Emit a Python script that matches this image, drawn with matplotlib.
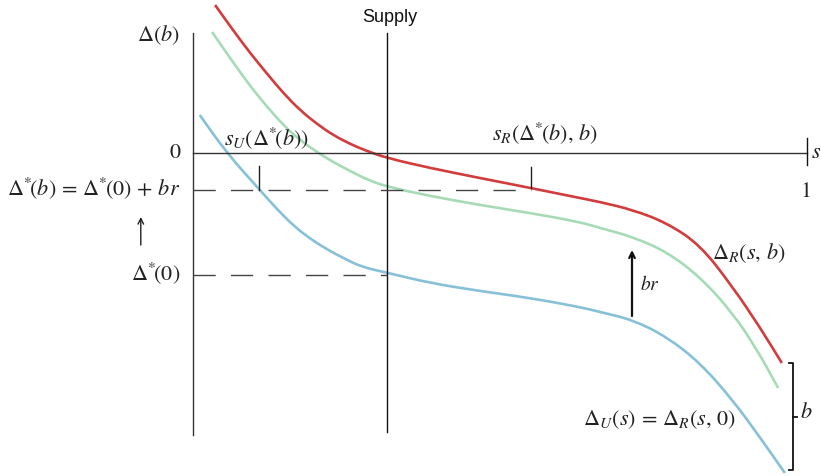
import numpy as np
import matplotlib
matplotlib.use("Agg")
import matplotlib.pyplot as plt
from matplotlib.path import Path
from matplotlib.patches import PathPatch

plt.rcParams['mathtext.fontset'] = 'stix'
plt.rcParams['font.family'] = ['STIXGeneral', 'DejaVu Serif']

# curves: share of supply s vs. margin Delta
s_red = [0.036, 0.065, 0.093, 0.121, 0.147, 0.174, 0.202, 0.228, 0.256, 0.283, 0.316, 0.386,
         0.467, 0.550, 0.630, 0.663, 0.717, 0.772, 0.826, 0.879, 0.923, 0.959]
d_red = [1.48, 1.23, 1.00, 0.79, 0.60, 0.43, 0.29, 0.18, 0.09, 0.02, -0.05, -0.15,
         -0.25, -0.35, -0.45, -0.49, -0.57, -0.70, -0.92, -1.34, -1.74, -2.10]

s_green = [0.031, 0.065, 0.093, 0.121, 0.147, 0.174, 0.202, 0.228, 0.256, 0.285, 0.318, 0.386,
           0.467, 0.549, 0.630, 0.663, 0.717, 0.772, 0.826, 0.879, 0.919, 0.953]
d_green = [1.21, 0.91, 0.67, 0.46, 0.28, 0.13, 0.01, -0.09, -0.18, -0.27, -0.34, -0.43,
           -0.52, -0.60, -0.69, -0.75, -0.84, -0.99, -1.24, -1.60, -1.97, -2.35]

s_blue = [0.011, 0.055, 0.106, 0.138, 0.166, 0.194, 0.220, 0.248, 0.275, 0.318, 0.386,
          0.467, 0.549, 0.630, 0.663, 0.717, 0.772, 0.826, 0.879, 0.923, 0.964]
d_blue = [0.38, 0.00, -0.35, -0.57, -0.74, -0.87, -0.97, -1.06, -1.14, -1.20, -1.30,
          -1.38, -1.45, -1.54, -1.59, -1.67, -1.84, -2.10, -2.47, -2.84, -3.20]

s_supply = 0.316
d_star_b = -0.37
d_star_0 = -1.22
s_u = 0.1075
s_r = 0.5505


def smooth_curve(ax, xs, ys, **kw):
    # quadratic B-spline through the read points, drawn as a path
    pts = np.column_stack([xs, ys])
    verts = [pts[0], (pts[0] + pts[1]) / 2]
    codes = [Path.MOVETO, Path.LINETO]
    for i in range(1, len(pts) - 1):
        verts += [pts[i], (pts[i] + pts[i + 1]) / 2]
        codes += [Path.CURVE3, Path.CURVE3]
    verts.append(pts[-1])
    codes.append(Path.LINETO)
    ax.add_patch(PathPatch(Path(verts, codes), fill=False, capstyle='butt', **kw))


fig = plt.figure(figsize=(8.21, 4.76), dpi=100)
ax = fig.add_axes([0, 0, 1, 1])
ax.set_xlim(-0.3143, 1.0228)
ax.set_ylim(-3.23, 1.53)
ax.axis('off')

axc = '#333333'
# axes and supply line
ax.plot([0, 0], [1.20, -2.82], color=axc, lw=1.0)
ax.plot([s_supply, s_supply], [1.20, -2.79], color='#111111', lw=1.0)
ax.plot([0, 1], [0, 0], color=axc, lw=1.0)
ax.plot([1, 1], [0.15, -0.12], color='#111111', lw=1.0)

# dashed guides
ax.plot([0, s_r], [d_star_b, d_star_b], color='#444444', lw=1.0, dashes=(16, 11))
ax.plot([0, s_supply], [d_star_0, d_star_0], color='#444444', lw=1.0, dashes=(16, 11))
ax.plot([s_u, s_u], [-0.13, d_star_b], color='#222222', lw=1.0)
ax.plot([s_r, s_r], [-0.14, -0.35], color='#222222', lw=1.0)

# curves
smooth_curve(ax, s_blue, d_blue, edgecolor='#86c1d8', lw=1.9)
smooth_curve(ax, s_green, d_green, edgecolor='#a6dbb6', lw=1.9)
smooth_curve(ax, s_red, d_red, edgecolor='#d23c3c', lw=1.9)

# arrows
ax.annotate('', xy=(-0.085, -0.64), xytext=(-0.085, -0.92),
            arrowprops=dict(arrowstyle='->', color='#222222', lw=1.0, shrinkA=0, shrinkB=0))
ax.annotate('', xy=(0.715, -0.97), xytext=(0.715, -1.63),
            arrowprops=dict(arrowstyle='->', color='#111111', lw=1.6, shrinkA=0, shrinkB=0))

# bracket b
ax.plot([0.971, 0.977, 0.977, 0.971], [-2.10, -2.10, -3.17, -3.17], color='#111111', lw=1.3)
ax.plot([0.977, 0.984], [-2.64, -2.64], color='#111111', lw=1.3)

fs = 16
tc = '#222222'
ax.text(-0.021, 1.18, r'$\Delta(b)$', ha='right', va='center', fontsize=fs, color=tc)
ax.text(-0.018, 0.0, r'$0$', ha='right', va='center', fontsize=fs, color=tc)
ax.text(-0.021, -0.35, r'$\Delta^{*}\!(b)\,=\,\Delta^{*}\!(0)\,+\,br$', ha='right', va='center', fontsize=fs, color=tc)
ax.text(-0.021, -1.20, r'$\Delta^{*}\!(0)$', ha='right', va='center', fontsize=fs, color=tc)
ax.text(0.321, 1.35, 'Supply', ha='center', va='center', fontsize=13, color='#111111', family='Liberation Sans')
ax.text(0.050, 0.15, r'$s_U(\Delta^{*}\!(b))$', ha='left', va='center', fontsize=fs, color=tc)
ax.text(0.487, 0.20, r'$s_R(\Delta^{*}\!(b),\, b)$', ha='left', va='center', fontsize=fs, color=tc)
ax.text(1.007, 0.0, r'$s$', ha='left', va='center', fontsize=fs, color=tc)
ax.text(0.998, -0.39, r'$1$', ha='center', va='center', fontsize=fs, color=tc)
ax.text(0.845, -1.00, r'$\Delta_R(s,\, b)$', ha='left', va='center', fontsize=fs, color=tc)
ax.text(0.728, -1.31, r'$br$', ha='left', va='center', fontsize=14, color=tc)
ax.text(0.635, -2.67, r'$\Delta_U(s)\,=\,\Delta_R(s,\, 0)$', ha='left', va='center', fontsize=fs, color=tc)
ax.text(0.989, -2.60, r'$b$', ha='left', va='center', fontsize=fs, color=tc)

fig.savefig('out.png', dpi=100)
